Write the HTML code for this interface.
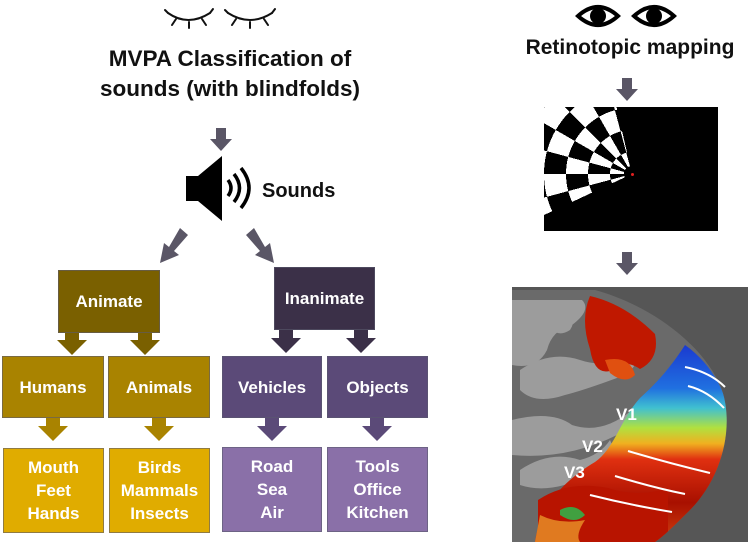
<!DOCTYPE html>
<html><head><meta charset="utf-8"><style>
html,body{margin:0;padding:0;background:#fff;width:750px;height:542px;overflow:hidden;position:relative;font-family:"Liberation Sans",sans-serif;}
.t{position:absolute;font-weight:bold;color:#111;text-align:center;white-space:nowrap}
.b{position:absolute;color:#fff;font-weight:bold;font-size:17px;display:flex;align-items:center;justify-content:center;text-align:center;line-height:23px;box-sizing:border-box;border:1px solid rgba(90,90,110,.6)}
#chk{position:absolute;left:544px;top:107px;width:174px;height:124px;overflow:hidden;background:#000;isolation:isolate}
#chk div{position:absolute;left:0;top:0;width:174px;height:124px}
</style></head><body>
<svg width="750" height="542" style="position:absolute;left:0;top:0">
<g stroke="#111" stroke-width="2" fill="none" stroke-linecap="round">
<path d="M168 13 Q188 27 210 13"/><path d="M176 19 L172 25 M189 22 L189 28 M202 19 L206 25 M168 13 l-3 -3 M210 13 l3 -4"/>
<path d="M228 13 Q250 27 272 13"/><path d="M236 19 L232 25 M250 22 L250 28 M264 19 L268 25 M228 13 l-3 -3 M272 13 l3 -4"/>
</g>
<g fill="#5a5666">
<path d="M216 128 h10 v11 h6 l-11 12 l-11 -12 h6z"/>
<path d="M622 78 h10 v11 h6 l-11 12 l-11 -12 h6z"/>
<path d="M622 252 h10 v11 h6 l-11 12 l-11 -12 h6z"/>
<path d="M180 228 l8 7 l-14 16 l5 4 l-19 8 l4 -20 l5 4z"/>
<path d="M254 228 l-8 7 l14 16 l-5 4 l19 8 l-4 -20 l-5 4z"/>
</g>
<path d="M186 176 h12 l24 -20 v65 l-24 -20 h-12z" fill="#000"/>
<g fill="none" stroke="#000" stroke-width="3.5">
<path d="M228 180 q6 8 0 16"/><path d="M234 174 q11 14 0 28"/><path d="M241 168 q16 20 0 40"/>
</g>
<g>
<path d="M578 16 Q598 -2 618 16 Q598 34 578 16z" fill="#fff" stroke="#000" stroke-width="4"/>
<circle cx="598" cy="16" r="8" fill="#000"/>
<path d="M634 16 Q654 -2 674 16 Q654 34 634 16z" fill="#fff" stroke="#000" stroke-width="4"/>
<circle cx="654" cy="16" r="8" fill="#000"/>
</g>
<g fill="#7a6000">
<path d="M65 332 h14 v8 h8 l-15 15 l-15 -15 h8z"/>
<path d="M138 332 h14 v8 h8 l-15 15 l-15 -15 h8z"/>
</g>
<g fill="#a98300">
<path d="M46 418 h14 v8 h8 l-15 15 l-15 -15 h8z"/>
<path d="M152 418 h14 v8 h8 l-15 15 l-15 -15 h8z"/>
</g>
<g fill="#3b3048">
<path d="M279 329 h14 v9 h8 l-15 15 l-15 -15 h8z"/>
<path d="M354 329 h14 v9 h8 l-15 15 l-15 -15 h8z"/>
</g>
<g fill="#5b4a78">
<path d="M265 418 h14 v8 h8 l-15 15 l-15 -15 h8z"/>
<path d="M370 418 h14 v8 h8 l-15 15 l-15 -15 h8z"/>
</g>
<defs>
<clipPath id="bc"><path d="M512 290 H595 C650 305 705 345 722 390 C735 430 720 480 690 510 C675 525 665 535 655 542 H512Z"/></clipPath>
<linearGradient id="cg" x1="0" y1="0" x2="0" y2="1">
<stop offset="0" stop-color="#1a3ad0"/><stop offset=".22" stop-color="#2070e0"/><stop offset=".32" stop-color="#40c0d0"/><stop offset=".42" stop-color="#b0e040"/><stop offset=".5" stop-color="#f0b020"/><stop offset=".58" stop-color="#e03010"/><stop offset=".8" stop-color="#a81000"/><stop offset="1" stop-color="#d04010"/></linearGradient>
</defs>
<rect x="512" y="287" width="236" height="255" fill="#565656"/>
<g clip-path="url(#bc)">
<rect x="512" y="287" width="236" height="255" fill="#6a6a6a"/>
<g fill="#9c9c9c">
<path d="M512 300 h70 q10 10 -10 25 q-20 5 -25 25 q-10 20 -35 15z"/>
<path d="M520 370 q30 -20 60 -10 q30 10 50 -10 q15 10 -5 25 q-40 15 -60 20 q-30 10 -45 -5z"/>
<path d="M512 420 q40 -10 60 5 q30 10 60 -15 q10 10 -15 25 q-50 25 -105 20z"/>
<path d="M520 470 q30 -20 60 -10 q20 -5 30 -20 q10 20 -20 35 q-40 20 -70 10z"/>
<path d="M600 330 q30 -10 50 10 q-10 25 -45 15z"/>
<path d="M560 300 q20 15 10 30 q-15 10 -25 -10z"/>
</g>
<path d="M685 345 C720 370 735 410 730 450 L730 542 L535 542 C540 505 565 480 595 462 C615 448 620 420 640 398 C660 380 672 365 685 345Z" fill="url(#cg)"/>
<path d="M538 500 q30 -20 70 -12 q30 10 60 0 l0 54 h-130z" fill="#b81400"/>
<path d="M540 515 q20 10 45 5 q-10 15 -5 22 h-45z" fill="#e07a20"/>
<path d="M590 296 q35 8 65 38 q5 25 -15 35 q-15 -10 -25 0 q-20 10 -25 -20 q-10 -30 0 -53z" fill="#c01800"/>
<path d="M605 360 q25 -5 30 15 q-10 10 -25 -2z" fill="#e05010"/>
<path d="M560 510 q15 -8 25 5 q-10 10 -25 0z" fill="#40a040"/>
</g>
<g fill="none" stroke="#fff" stroke-width="2">
<path d="M685 367 q25 5 40 20"/><path d="M688 386 q20 5 36 22"/>
<path d="M628 451 q40 12 82 22"/><path d="M615 476 q40 12 70 18"/><path d="M590 495 q40 10 82 17"/>
</g>
<g font-family="Liberation Sans,sans-serif" font-weight="bold" font-size="17" fill="#fff">
<text x="616" y="420">V1</text><text x="582" y="452">V2</text><text x="564" y="478">V3</text>
</g>
</svg>
<div class="t" style="left:80px;top:44px;width:300px;font-size:22.5px;line-height:30px">MVPA Classification of<br>sounds (with blindfolds)</div>
<div class="t" style="left:262px;top:180px;font-size:20px;font-weight:bold">Sounds</div>
<div class="t" style="left:505px;top:36px;width:250px;font-size:21px">Retinotopic mapping</div>
<div id="chk">
<div style="background:repeating-conic-gradient(from 0deg at 88px 67px,#fff 0deg 15deg,#000 15deg 30deg)"></div>
<div style="background:repeating-radial-gradient(circle at 88px 67px,#000 0px 22px,#fff 22px 44px);mix-blend-mode:difference"></div>
<div style="background:conic-gradient(from 0deg at 88px 67px,#000 0deg 245deg,transparent 245deg 347deg,#000 347deg 360deg)"></div>
<div style="background:radial-gradient(circle at 88px 67px,#000 0px 8px,transparent 8px)"></div>
<div style="left:87px;top:66px;width:3px;height:3px;background:#e02020;border-radius:50%"></div>
</div>
<div class="b" style="left:58px;top:270px;width:102px;height:63px;background:#7a6000">Animate</div>
<div class="b" style="left:274px;top:267px;width:101px;height:63px;background:#3b3048">Inanimate</div>
<div class="b" style="left:2px;top:356px;width:102px;height:62px;background:#a98300">Humans</div>
<div class="b" style="left:108px;top:356px;width:102px;height:62px;background:#a98300">Animals</div>
<div class="b" style="left:222px;top:356px;width:100px;height:62px;background:#5b4a78">Vehicles</div>
<div class="b" style="left:327px;top:356px;width:101px;height:62px;background:#5b4a78">Objects</div>
<div class="b" style="left:3px;top:448px;width:101px;height:85px;background:#e0ac00">Mouth<br>Feet<br>Hands</div>
<div class="b" style="left:109px;top:448px;width:101px;height:85px;background:#e0ac00">Birds<br>Mammals<br>Insects</div>
<div class="b" style="left:222px;top:447px;width:100px;height:85px;background:#8a70a8">Road<br>Sea<br>Air</div>
<div class="b" style="left:327px;top:447px;width:101px;height:85px;background:#8a70a8">Tools<br>Office<br>Kitchen</div>
</body></html>
